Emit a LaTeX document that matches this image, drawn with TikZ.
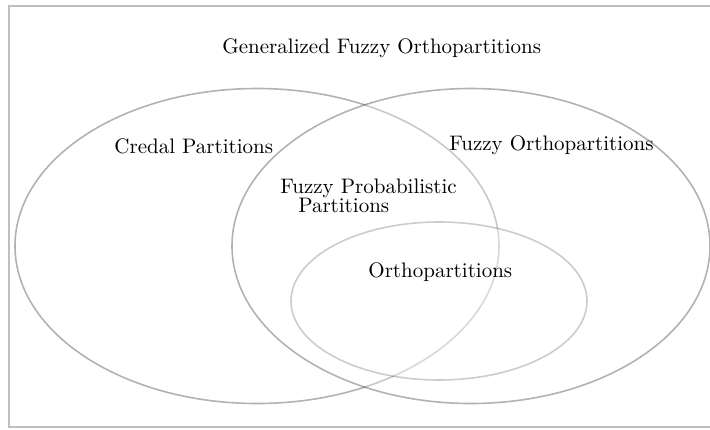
\documentclass[tikz,border=0pt]{standalone}
\begin{document}
\begin{tikzpicture}[x=1pt,y=-1pt,
  setline/.style={line width=1.6pt,draw=black,draw opacity=0.3},
  lbl/.style={inner sep=0pt,scale=2.1,anchor=base west}]
\useasboundingbox (0,0) rectangle (710,429);
\draw[black!25,line width=1.8pt] (9,6) rectangle (716,427);
% Credal
\draw[setline] (257,246) ellipse [x radius=242,y radius=157.5];
% Fuzzy orthopartitions
\draw[setline,fill=white,fill opacity=0.3] (471,246) ellipse [x radius=239,y radius=157.5];
% Orthopartitions
\draw[line width=1.6pt,draw=black,draw opacity=0.2,fill=white,fill opacity=0.3] (439,301) ellipse [x radius=148,y radius=79];
\node[lbl] (gfo) at (222,53) {Generalized Fuzzy Orthopartitions};
\node[lbl] (cp) at (114,153) {Credal Partitions};
\node[lbl] (fo) at (449,150) {Fuzzy Orthopartitions};
\node[lbl,align=left] (fpp) at (280,212) {Fuzzy Probabilistic\\[-3pt]\hspace*{8.5pt}Partitions};
\node[lbl] (op) at (368,277) {Orthopartitions};
\end{tikzpicture}
\end{document}
